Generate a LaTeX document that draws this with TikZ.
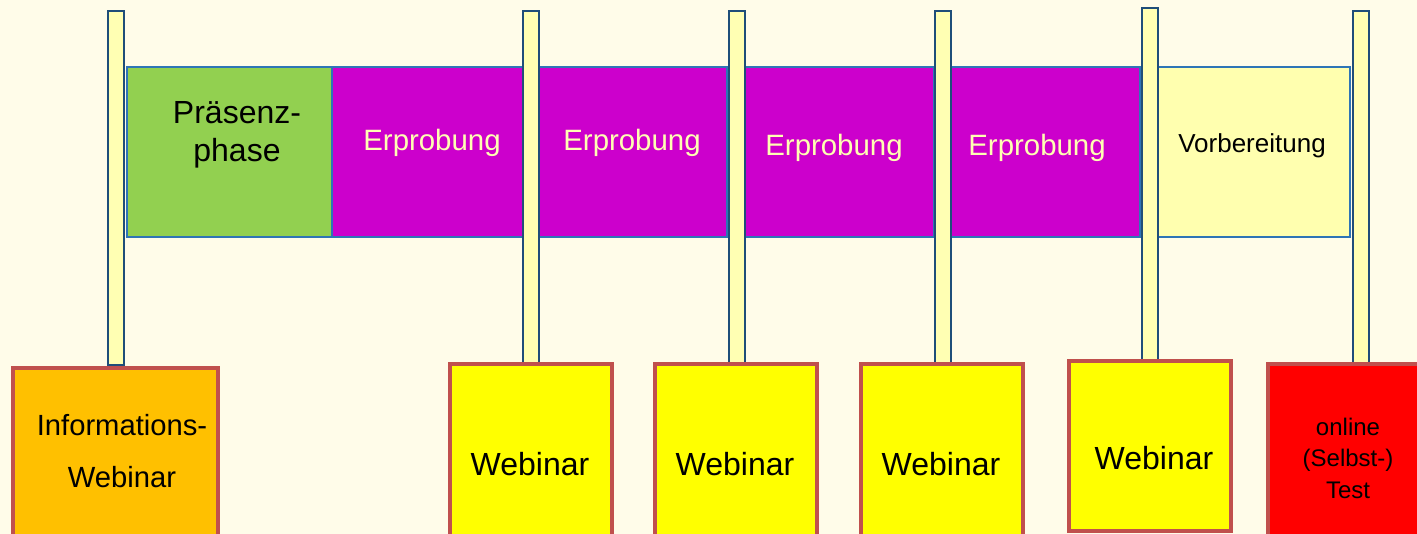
\documentclass[tikz,border=0pt]{standalone}
\usepackage{fontspec}
\setmainfont{Liberation Sans}
\usetikzlibrary{positioning}
\definecolor{bgcream}{HTML}{FFFCE9}
\definecolor{postfill}{HTML}{FFFFB3}
\definecolor{postblue}{HTML}{1F4E79}
\definecolor{phaseblue}{HTML}{2E75B6}
\definecolor{greenph}{HTML}{92D050}
\definecolor{magentaph}{HTML}{CC00CC}
\definecolor{prepfill}{HTML}{FFFFAF}
\definecolor{infoorange}{HTML}{FFC000}
\definecolor{webyellow}{HTML}{FFFF00}
\definecolor{testred}{HTML}{FF0000}
\definecolor{eventrim}{HTML}{C0504D}
\tikzstyle{post} = [draw=postblue, fill=postfill, line width=0.75pt]
\tikzstyle{phase} = [draw=phaseblue, line width=0.75pt]
\tikzstyle{event} = [draw=eventrim, line width=1.6pt]
\tikzstyle{txt} = [align=center, inner sep=0pt]

\begin{document}
\begin{tikzpicture}[x=0.5pt,y=-0.5pt]
    \fill[bgcream] (0,0) rectangle (1417,534);
    \useasboundingbox (0,0) rectangle (1417,534);
    \clip (0,0) rectangle (1417,534);
    % phases
    \draw[phase, fill=greenph] (127,67) rectangle (332,237);
    \draw[phase, fill=magentaph] (332,67) rectangle (523,237);
    \draw[phase, fill=magentaph] (536,67) rectangle (727,237);
    \draw[phase, fill=magentaph] (743,67) rectangle (934,237);
    \draw[phase, fill=magentaph] (949,67) rectangle (1140,237);
    \draw[phase, fill=prepfill] (1158,67) rectangle (1350,237);
    \node[txt, font=\fontsize{16}{19}\selectfont] (praesenz) at (237,135) {Präsenz-\\phase};
    \foreach \xc/\yc [count=\i] in {432/143, 632/143, 834/148, 1037/148}
      \node[txt, text=postfill, font=\fontsize{14.7}{18}\selectfont] (erprob\i) at (\xc,\yc) {Erprobung};
    \node[txt, font=\fontsize{13}{16}\selectfont] (vorber) at (1252,146) {Vorbereitung};
    % posts
    \foreach \xl/\yt/\yb in {108/11/365, 523/11/364, 729/11/364, 935/11/364, 1142/8/361, 1353/11/364}
      \draw[post] (\xl,\yt) rectangle (\xl+16,\yb);
    % events
    \draw[event, fill=infoorange] (13,368) rectangle (218,545);
    \node[txt, font=\fontsize{14.6}{26}\selectfont] (infoweb) at (122,451) {Informations-\\Webinar};
    \foreach \xl/\yt [count=\i] in {450/364, 655/364, 861/364} {
      \draw[event, fill=webyellow] (\xl,\yt) rectangle (\xl+162,545);
      \node[txt, font=\fontsize{16}{20}\selectfont] (web\i) at (\xl+80,464) {Webinar};
    }
    \draw[event, fill=webyellow] (1069,361) rectangle (1231,531);
    \node[txt, font=\fontsize{16}{20}\selectfont] (web4) at (1154,458) {Webinar};
    \draw[event, fill=testred] (1268,364) rectangle (1430,545);
    \node[txt, font=\fontsize{12}{15.75}\selectfont] (selbsttest) at (1348,458) {online\\(Selbst-)\\Test};
\end{tikzpicture}
\end{document}
